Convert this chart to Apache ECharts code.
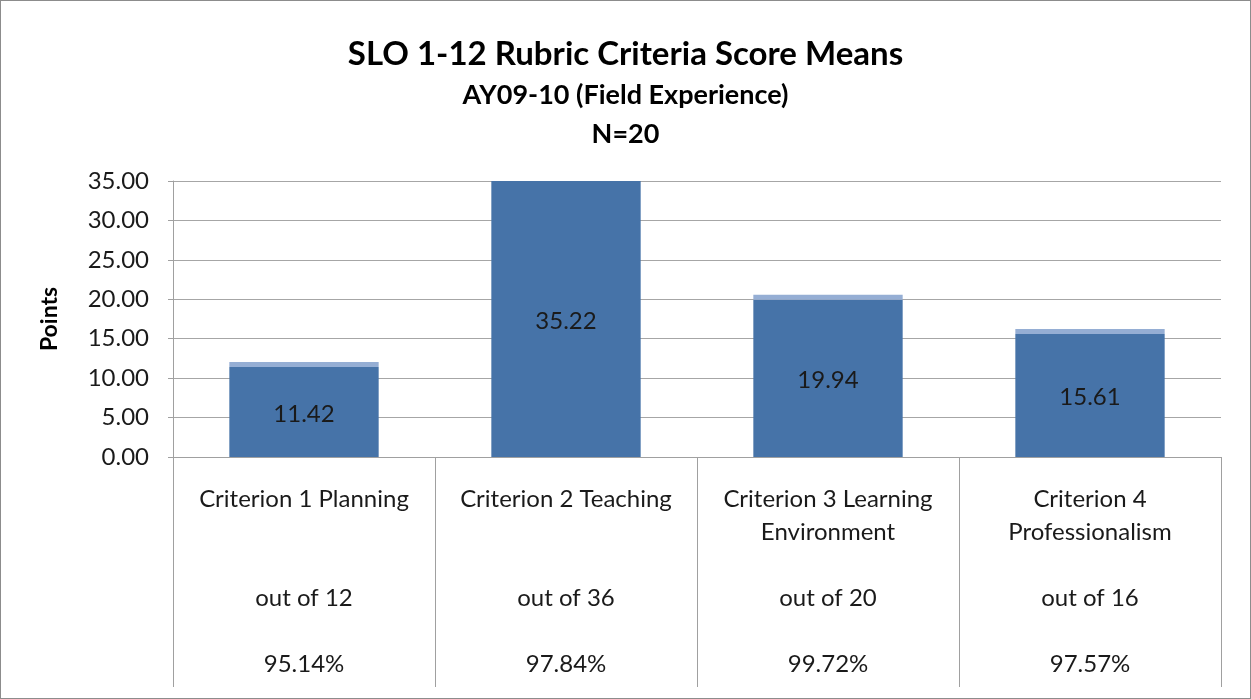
<!DOCTYPE html>
<html>
<head>
<meta charset="utf-8">
<script src="https://cdn.jsdelivr.net/npm/echarts@6/dist/echarts.min.js"></script>
<style>
  html, body { margin: 0; padding: 0; background: #fff; }
  #main { width: 1251px; height: 699px; box-sizing: border-box; border: 1px solid #8c8c8c; }
</style>
</head>
<body>
<div id="main"></div>
<script>
const categories = ['Criterion 1 Planning', 'Criterion 2 Teaching', 'Criterion 3 Learning\nEnvironment', 'Criterion 4\nProfessionalism']
const means = [11.42, 35.22, 19.94, 15.61]
const maxPoints = [12, 36, 20, 16]
const percents = ['95.14%', '97.84%', '99.72%', '97.57%']
const yTicks = { min: 0, max: 35, interval: 5 }

const fontFamily = 'Lato, "Noto Sans", sans-serif'
const barColor = '#4673a8'
const capColor = '#95aed4'
const capHeight = 5

// label text under each bar, like the data table in the original
const axisLabels = categories.map((name, i) => {
  const nameLines = name.split('\n')
  const pad = nameLines.length === 1 ? '\n\n\n' : '\n\n'
  return name + pad + 'out of ' + maxPoints[i] + '\n\n' + percents[i]
})

function renderBar(params, api) {
  const idx = api.value(0)
  const val = api.value(1)
  const cs = params.coordSys
  const base = api.coord([idx, 0])
  const top = api.coord([idx, val])
  const bw = api.size([1, 0])[0] * 0.57
  const x = base[0] - bw / 2
  const yTop = Math.max(top[1], cs.y)
  const children = [{
    type: 'rect',
    shape: { x: x, y: yTop, width: bw, height: base[1] - yTop },
    style: { fill: barColor }
  }]
  if (top[1] - capHeight >= cs.y) {
    children.push({
      type: 'rect',
      shape: { x: x, y: top[1] - capHeight, width: bw, height: capHeight },
      style: { fill: capColor }
    })
  }
  children.push({
    type: 'text',
    style: {
      x: base[0],
      y: (yTop + base[1]) / 2 + 2,
      text: val.toFixed(2),
      align: 'center',
      verticalAlign: 'middle',
      fill: '#1a1a1a',
      font: '24px ' + fontFamily
    }
  })
  return { type: 'group', children: children }
}

const myChart = echarts.init(document.getElementById('main'))
myChart.setOption({
  animation: false,
  title: {
    text: 'SLO 1-12 Rubric Criteria Score Means',
    subtext: 'AY09-10 (Field Experience)\nN=20',
    left: 'center',
    top: 29,
    itemGap: 3,
    textStyle: { fontFamily: fontFamily, fontSize: 33, fontWeight: 'bold', color: '#000', lineHeight: 38 },
    subtextStyle: { fontFamily: fontFamily, fontSize: 27, fontWeight: 'bold', color: '#000', lineHeight: 39 }
  },
  grid: { left: 172, right: 29, top: 180, bottom: 241 },
  xAxis: {
    type: 'category',
    data: axisLabels,
    axisLine: { lineStyle: { color: '#a0a0a0' } },
    axisTick: { show: true, interval: 0, length: 230, lineStyle: { color: '#a0a0a0' } },
    axisLabel: {
      interval: 0,
      margin: 26,
      lineHeight: 33,
      fontFamily: fontFamily,
      fontSize: 24,
      color: '#1a1a1a'
    }
  },
  yAxis: {
    type: 'value',
    min: yTicks.min,
    max: yTicks.max,
    interval: yTicks.interval,
    name: 'Points',
    nameLocation: 'middle',
    nameGap: 112,
    nameTextStyle: { fontFamily: fontFamily, fontSize: 23, fontWeight: 'bold', color: '#000' },
    axisLine: { show: true, lineStyle: { color: '#a0a0a0' } },
    axisTick: { show: true, length: 5, lineStyle: { color: '#a0a0a0' } },
    axisLabel: {
      margin: 24,
      fontFamily: fontFamily,
      fontSize: 24,
      color: '#1a1a1a',
      formatter: v => v.toFixed(2)
    },
    splitLine: { lineStyle: { color: '#a6a6a6' } }
  },
  series: [{
    type: 'custom',
    clip: true,
    renderItem: renderBar,
    encode: { x: 0, y: 1 },
    data: means.map((v, i) => [i, v])
  }]
})
</script>
</body>
</html>
